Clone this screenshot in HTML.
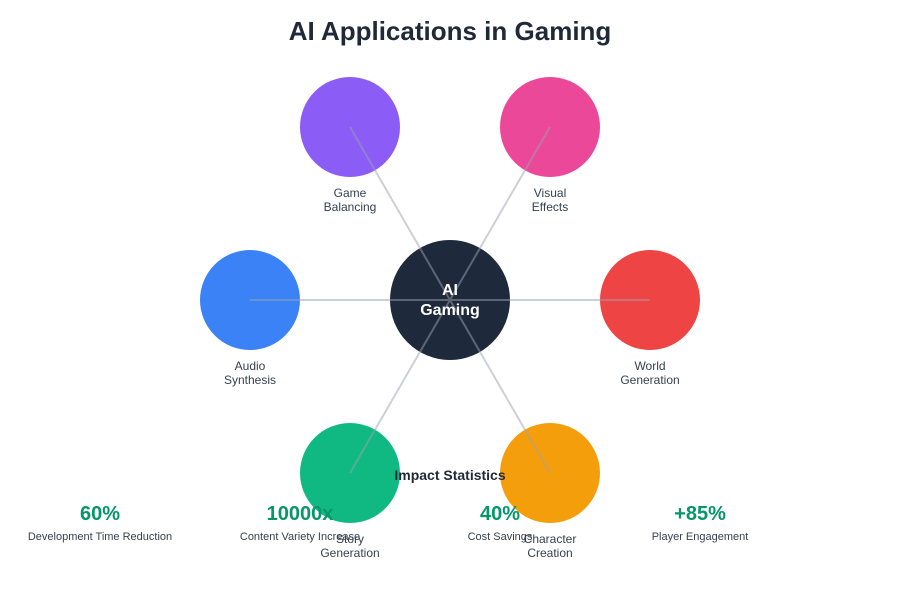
<!DOCTYPE html>
<html><head><meta charset="utf-8"><style>
html,body{margin:0;padding:0;background:#fff;}
svg{display:block;font-family:"Liberation Sans",Arial,sans-serif;}
</style></head><body>
<svg width="900" height="600" viewBox="0 0 900 600">
<text x="450" y="40" text-anchor="middle" font-size="26" font-weight="bold" fill="#1f2937">AI Applications in Gaming</text>
<circle cx="350" cy="127" r="50" fill="#8b5cf6"/>
<circle cx="550" cy="127" r="50" fill="#ec4899"/>
<circle cx="250" cy="300" r="50" fill="#3b82f6"/>
<circle cx="650" cy="300" r="50" fill="#ef4444"/>
<circle cx="350" cy="473" r="50" fill="#10b981"/>
<circle cx="550" cy="473" r="50" fill="#f59e0b"/>
<circle cx="450" cy="300" r="60" fill="#1e293b"/>
<g stroke="#9ca3af" stroke-width="2" opacity="0.5">
<line x1="450" y1="300" x2="350" y2="127"/>
<line x1="450" y1="300" x2="550" y2="127"/>
<line x1="450" y1="300" x2="250" y2="300"/>
<line x1="450" y1="300" x2="650" y2="300"/>
<line x1="450" y1="300" x2="350" y2="473"/>
<line x1="450" y1="300" x2="550" y2="473"/>
</g>
<g font-size="16" font-weight="bold" fill="#fff" text-anchor="middle">
<text x="450" y="295">AI</text><text x="450" y="315">Gaming</text>
</g>
<g font-size="12" fill="#374151" text-anchor="middle">
<text x="350" y="197">Game</text><text x="350" y="211">Balancing</text>
<text x="550" y="197">Visual</text><text x="550" y="211">Effects</text>
<text x="250" y="370">Audio</text><text x="250" y="384">Synthesis</text>
<text x="650" y="370">World</text><text x="650" y="384">Generation</text>
<text x="350" y="543">Story</text><text x="350" y="557">Generation</text>
<text x="550" y="543">Character</text><text x="550" y="557">Creation</text>
</g>
<text x="450" y="480" text-anchor="middle" font-size="14" font-weight="bold" fill="#1f2937">Impact Statistics</text>
<g font-size="20" font-weight="bold" fill="#059669" text-anchor="middle">
<text x="100" y="520">60%</text><text x="300" y="520">10000x</text><text x="500" y="520">40%</text><text x="700" y="520">+85%</text>
</g>
<g font-size="11" fill="#374151" text-anchor="middle">
<text x="100" y="540">Development Time Reduction</text><text x="300" y="540">Content Variety Increase</text><text x="500" y="540">Cost Savings</text><text x="700" y="540">Player Engagement</text>
</g>
</svg>
</body></html>
